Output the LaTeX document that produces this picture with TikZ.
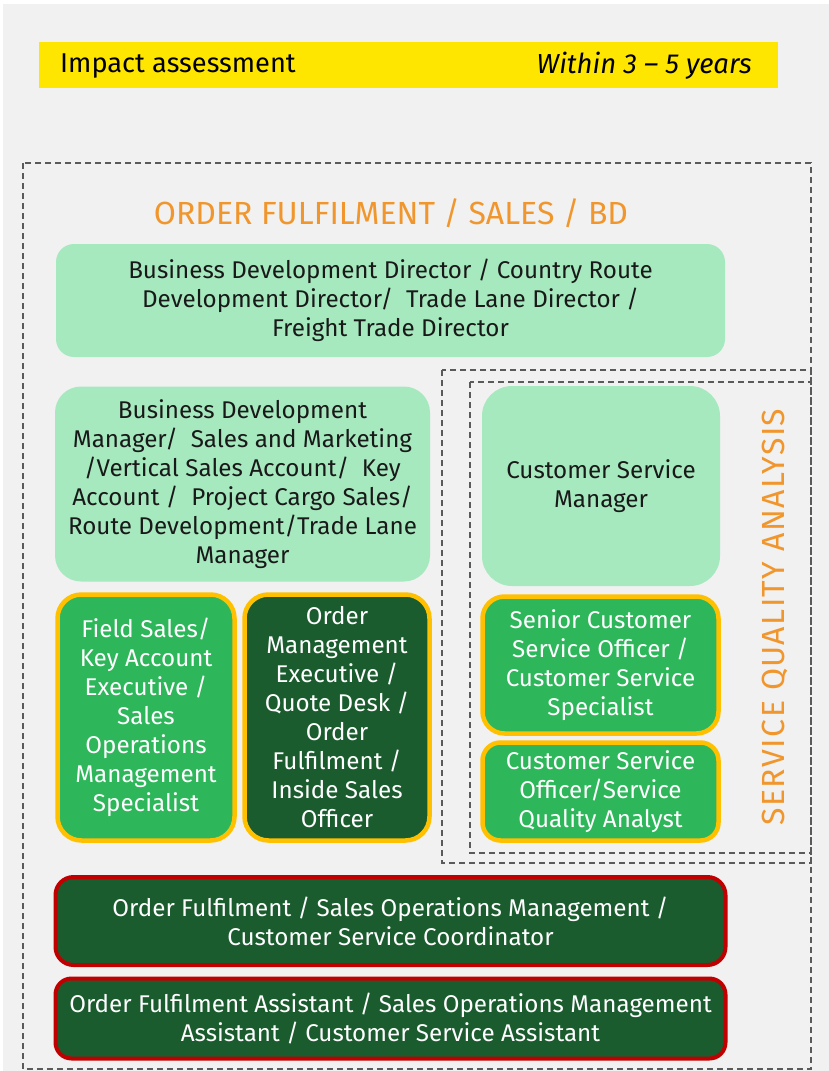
\documentclass[tikz,border=0pt]{standalone}
\usepackage{fontspec}
\setmainfont{Fira Sans}
\definecolor{bggray}{HTML}{F1F1F1}
\definecolor{hdryellow}{HTML}{FFE600}
\definecolor{lightgreen}{HTML}{A6E9BE}
\definecolor{midgreen}{HTML}{2EB75A}
\definecolor{darkgreen}{HTML}{1A5C2E}
\definecolor{goldborder}{HTML}{FFC000}
\definecolor{redborder}{HTML}{C00000}
\definecolor{titleorange}{HTML}{F0962D}
\definecolor{dashgray}{HTML}{5A5A5A}
\tikzset{
  role/.style={rounded corners=#1, align=center, inner sep=0pt,
    font=\fontsize{24.2}{29}\selectfont},
  lightbox/.style={role=#1, fill=lightgreen, text=black!90},
  goldbox/.style={role=#1, fill=midgreen, draw=goldborder, line width=4.5pt, text=white},
  golddark/.style={role=#1, fill=darkgreen, draw=goldborder, line width=4.5pt, text=white},
  redbox/.style={role=#1, fill=darkgreen, draw=redborder, line width=4pt, text=white},
  zone/.style={draw=dashgray, line width=1.4pt, dash pattern=on 6pt off 4pt},
  heading/.style={text=titleorange, inner sep=0pt}
}
\begin{document}
\begin{tikzpicture}[x=1pt,y=-1pt]
\useasboundingbox (0,0) rectangle (829,1071);
\fill[white] (0,0) rectangle (829,1071);
\fill[bggray] (3,4) rectangle (829,1071);
% header
\node[fill=hdryellow, minimum width=739pt, minimum height=46pt, inner sep=0pt] (hdr) at (408.5,65) {};
\node[anchor=west, inner sep=0pt, font=\fontsize{27.2}{30}\selectfont] (hdrl) at (60,66) {Impact assessment};
\node[anchor=east, inner sep=0pt, font=\fontsize{27.5}{30}\selectfont\itshape] (hdrr) at (752,66) {Within 3 – 5 years};
% dashed zones
\draw[zone] (23,163) rectangle (811,1069);
\draw[zone] (442,370) rectangle (811,863);
\draw[zone] (470,382) rectangle (811,853);
% titles
\node[heading, font=\fontsize{32}{36}\selectfont] (t1) at (391,213) {ORDER FULFILMENT / SALES / BD};
\node[heading, rotate=90, font=\fontsize{32}{36}\selectfont\addfontfeatures{LetterSpace=4.5}] (t2) at (775,617) {SERVICE QUALITY ANALYSIS};
% boxes
\node[lightbox=18pt, minimum width=669pt, minimum height=113pt] (b1) at (390.5,300.5)
  {Business Development Director / Country Route\\Development Director/\ \ Trade Lane Director /\\Freight Trade Director};
\node[lightbox=26pt, minimum width=375pt, minimum height=195pt] (b2) at (242.5,484)
  {Business Development\\Manager/\ \ Sales and Marketing\\/Vertical Sales Account/\ \ Key\\Account /\ \ Project Cargo Sales/\\Route Development/Trade Lane\\Manager};
\node[lightbox=30pt, minimum width=238pt, minimum height=200pt] (b3) at (601,486)
  {Customer Service\\Manager};
\node[goldbox=24pt, minimum width=177pt, minimum height=246pt] (b4) at (146,717.5)
  {Field Sales/\\Key Account\\Executive /\\Sales\\Operations\\Management\\Specialist};
\node[golddark=24pt, minimum width=185pt, minimum height=246pt] (b5) at (337,717.5)
  {Order\\Management\\Executive /\\Quote Desk /\\Order\\Fulfilment /\\Inside Sales\\Officer};
\node[goldbox=22pt, minimum width=236pt, minimum height=137pt] (b6) at (600.5,665)
  {Senior Customer\\Service Officer /\\Customer Service\\Specialist};
\node[goldbox=18pt, minimum width=236pt, minimum height=98pt] (b7) at (600.5,791.5)
  {Customer Service\\Officer/Service\\Quality Analyst};
\node[redbox=18pt, minimum width=670pt, minimum height=88pt] (b8) at (390.5,921)
  {Order Fulfilment / Sales Operations Management /\\Customer Service Coordinator};
\node[redbox=16pt, minimum width=670pt, minimum height=80pt] (b9) at (390.5,1018.5)
  {Order Fulfilment Assistant / Sales Operations Management\\Assistant / Customer Service Assistant};
\end{tikzpicture}
\end{document}
